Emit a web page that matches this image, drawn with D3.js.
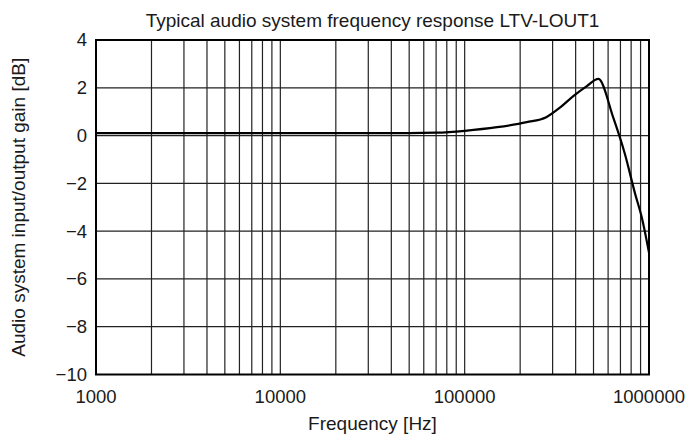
<!DOCTYPE html>
<html><head><meta charset="utf-8">
<script src="https://cdn.jsdelivr.net/npm/d3@7"></script>
<style>body{margin:0;background:#fff}svg{display:block}text{font-family:"Liberation Sans",Arial,sans-serif;fill:#1a1a1a}</style>
</head><body><svg id="c" width="690" height="438"></svg>
<script>
const title = "Typical audio system frequency response LTV-LOUT1";
const xLabel = "Frequency [Hz]";
const yLabel = "Audio system input/output gain [dB]";
const xTicks = [1000, 10000, 100000, 1000000];
const yTicks = [4, 2, 0, -2, -4, -6, -8, -10];
const freq = [1000, 10000, 50000, 70000, 100000, 150000, 217000, 277000, 330000, 390000, 460000, 531000, 640000, 742000, 841000, 912000, 1000000];
const gain = [0.1, 0.1, 0.1, 0.12, 0.2, 0.35, 0.56, 0.77, 1.18, 1.66, 2.07, 2.37, 0.75, -0.8, -2.44, -3.4, -4.9];

const svg = d3.select("#c");
const L = 96, R = 649, T = 40, B = 374.5;
const x = d3.scaleLog().domain([1000, 1000000]).range([L, R]);
const y = d3.scaleLinear().domain([-10, 4]).range([B, T]);

const vgrid = [];
for (let d = 1000; d < 1000000; d *= 10) for (let k = 1; k < 10; k++) vgrid.push(d * k);
svg.append("g").selectAll("line").data(vgrid.filter(v => v > 1000)).join("line")
  .attr("x1", d => x(d)).attr("x2", d => x(d)).attr("y1", T).attr("y2", B)
  .attr("stroke", "#222").attr("stroke-width", 1.2);
svg.append("g").selectAll("line").data(yTicks.filter(v => v > -10 && v < 4)).join("line")
  .attr("x1", L).attr("x2", R).attr("y1", d => y(d)).attr("y2", d => y(d))
  .attr("stroke", "#222").attr("stroke-width", 1.2);

const line = d3.line().x((d, i) => x(freq[i])).y(d => y(d)).curve(d3.curveMonotoneX);
svg.append("path").datum(gain).attr("d", line).attr("fill", "none")
  .attr("stroke", "#000").attr("stroke-width", 2.2).attr("stroke-linejoin", "round");

svg.append("rect").attr("x", L).attr("y", T).attr("width", R - L).attr("height", B - T)
  .attr("fill", "none").attr("stroke", "#000").attr("stroke-width", 2);

const fmt = v => (v < 0 ? "\u2212" + Math.abs(v) : String(v));
svg.append("g").selectAll("text").data(yTicks).join("text")
  .attr("x", L - 9).attr("y", d => y(d)).attr("dy", "0.35em").attr("text-anchor", "end")
  .attr("font-size", 18.5).text(fmt);
svg.append("g").selectAll("text").data(xTicks).join("text")
  .attr("x", d => x(d)).attr("y", 403).attr("text-anchor", "middle")
  .attr("font-size", 18.5).text(d => String(d));

svg.append("text").attr("x", (L + R) / 2).attr("y", 27).attr("text-anchor", "middle")
  .attr("font-size", 19).text(title);
svg.append("text").attr("x", (L + R) / 2).attr("y", 430).attr("text-anchor", "middle")
  .attr("font-size", 19).text(xLabel);
svg.append("text").attr("transform", `translate(25,${(T + B) / 2}) rotate(-90)`)
  .attr("text-anchor", "middle").attr("font-size", 19).text(yLabel);
</script></body></html>
